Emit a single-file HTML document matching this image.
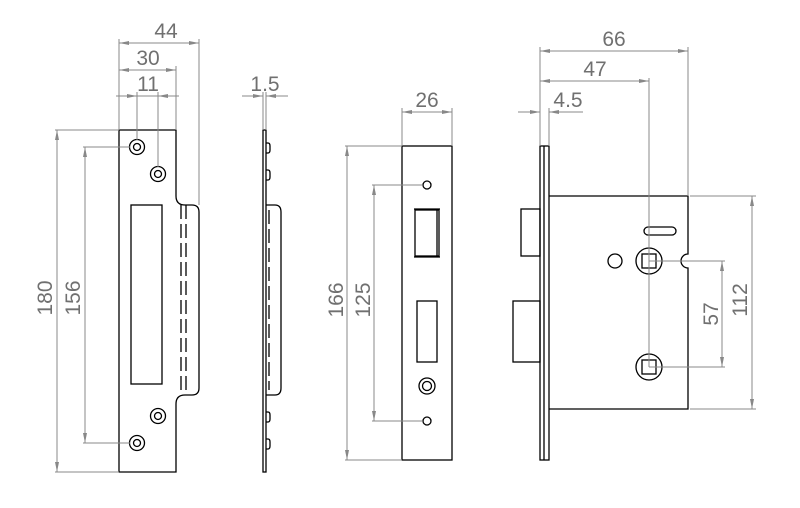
<!DOCTYPE html>
<html><head><style>
html,body{margin:0;padding:0;background:#fff;}
svg{display:block;}
text{font-family:"Liberation Sans",sans-serif;font-size:21px;fill:#707070;text-anchor:middle;}
.d{stroke:#888;stroke-width:1;fill:none;}
.s{stroke:#000;stroke-width:1.3;fill:none;}
</style></head><body>
<svg width="800" height="508" viewBox="0 0 800 508">
<defs>
<marker id="ar" viewBox="0 0 10 4" refX="10" refY="2" markerWidth="10" markerHeight="4" markerUnits="userSpaceOnUse" orient="auto-start-reverse">
<path d="M0,0 L10,2 L0,4 z" fill="#888"/></marker>
</defs>

<path class="s" d="M119,130 H176 V196 Q176,205 185,205 H192 Q199,205 199,212 V388 Q199,395 192,395 H185 Q176,395 176,404 V472 H119 Z"/>
<line class="s" x1="186" y1="205" x2="186" y2="395" stroke-dasharray="14,5"/>
<line class="s" x1="181" y1="205" x2="181" y2="395" stroke-dasharray="14,5"/>
<rect class="s" x="131" y="205" width="31" height="179"/>
<g class="s">
<circle cx="137" cy="147" r="7.5"/><circle cx="137" cy="147" r="3.5"/>
<circle cx="158" cy="174" r="7.5"/><circle cx="158" cy="174" r="3.5"/>
<circle cx="158" cy="416" r="7.5"/><circle cx="158" cy="416" r="3.5"/>
<circle cx="137" cy="443" r="7.5"/><circle cx="137" cy="443" r="3.5"/>
</g>
<g class="d">
<line x1="119" y1="130" x2="119" y2="39"/>
<line x1="199" y1="205" x2="199" y2="39"/>
<line x1="176" y1="130" x2="176" y2="66"/>
<line x1="137" y1="140" x2="137" y2="92"/>
<line x1="158" y1="167" x2="158" y2="92"/>
<line x1="119" y1="43" x2="199" y2="43" marker-start="url(#ar)" marker-end="url(#ar)"/>
<line x1="119" y1="70" x2="176" y2="70" marker-start="url(#ar)" marker-end="url(#ar)"/>
<line x1="116" y1="96" x2="137" y2="96" marker-end="url(#ar)"/>
<line x1="179" y1="96" x2="158" y2="96" marker-end="url(#ar)"/>
<line x1="137" y1="96" x2="158" y2="96"/>
<line x1="55" y1="130" x2="119" y2="130"/>
<line x1="55" y1="472" x2="119" y2="472"/>
<line x1="57" y1="130" x2="57" y2="472" marker-start="url(#ar)" marker-end="url(#ar)"/>
<line x1="83" y1="147" x2="130" y2="147"/>
<line x1="83" y1="443" x2="130" y2="443"/>
<line x1="85" y1="147" x2="85" y2="443" marker-start="url(#ar)" marker-end="url(#ar)"/>
</g>
<text x="166" y="38">44</text>
<text x="148" y="65">30</text>
<text x="148" y="91">11</text>
<text transform="translate(52,298) rotate(-90)">180</text>
<text transform="translate(80,298) rotate(-90)">156</text>

<rect class="s" x="263" y="130" width="3" height="342"/>
<path class="s" d="M266,205 H275 Q281,205 281,212 V388 Q281,395 275,395 H266"/>
<line class="s" x1="269" y1="210" x2="269" y2="390" stroke-dasharray="14,5"/>
<g class="s">
<path d="M266,143 H268 Q270,143 270,146 V150 Q270,153 268,153 H266"/>
<path d="M266,170 H268 Q270,170 270,173 V177 Q270,180 268,180 H266"/>
<path d="M266,412 H268 Q270,412 270,415 V419 Q270,422 268,422 H266"/>
<path d="M266,439 H268 Q270,439 270,442 V446 Q270,449 268,449 H266"/>
</g>
<g class="d">
<line x1="263" y1="130" x2="263" y2="92"/>
<line x1="266" y1="130" x2="266" y2="92"/>
<line x1="242" y1="96" x2="263" y2="96" marker-end="url(#ar)"/>
<line x1="288" y1="96" x2="266" y2="96" marker-end="url(#ar)"/>
</g>
<text x="265" y="91">1.5</text>

<rect class="s" x="402" y="146" width="50" height="314"/>
<circle class="s" cx="427" cy="185" r="4"/>
<circle class="s" cx="427" cy="421" r="4"/>
<rect class="s" x="415" y="210" width="24" height="46"/>
<line class="s" x1="437" y1="209" x2="437" y2="257"/>
<line class="s" x1="414" y1="209" x2="440" y2="209"/>
<line class="s" x1="414" y1="257" x2="440" y2="257"/>
<rect class="s" x="417" y="301" width="20" height="61"/>
<circle class="s" cx="427" cy="386" r="8"/>
<circle class="s" cx="427" cy="386" r="4.5"/>
<g class="d">
<line x1="402" y1="146" x2="402" y2="108"/>
<line x1="452" y1="146" x2="452" y2="108"/>
<line x1="402" y1="112" x2="452" y2="112" marker-start="url(#ar)" marker-end="url(#ar)"/>
<line x1="345" y1="146" x2="402" y2="146"/>
<line x1="345" y1="460" x2="402" y2="460"/>
<line x1="347" y1="146" x2="347" y2="460" marker-start="url(#ar)" marker-end="url(#ar)"/>
<line x1="372" y1="185" x2="422" y2="185"/>
<line x1="372" y1="421" x2="422" y2="421"/>
<line x1="374" y1="185" x2="374" y2="421" marker-start="url(#ar)" marker-end="url(#ar)"/>
</g>
<text x="427" y="107">26</text>
<text transform="translate(343,300) rotate(-90)">166</text>
<text transform="translate(370,300) rotate(-90)">125</text>

<rect class="s" x="540" y="146" width="9" height="314"/>
<line class="s" x1="544" y1="146" x2="544" y2="460"/>
<path class="s" d="M549,196 H688 V254 A7,7 0 0 0 688,268 V409 H549"/>
<rect class="s" x="521" y="209" width="19" height="47"/>
<rect class="s" x="513" y="301" width="27" height="61"/>
<rect class="s" x="644" y="227" width="32" height="8" rx="4"/>
<circle class="s" cx="615" cy="261" r="7"/>
<circle class="s" cx="649" cy="261" r="13"/>
<rect class="s" x="642" y="254" width="14" height="14"/>
<circle class="s" cx="649" cy="367" r="13"/>
<rect class="s" x="642" y="360" width="14" height="14"/>
<g class="d">
<line x1="540" y1="146" x2="540" y2="47"/>
<line x1="688" y1="196" x2="688" y2="47"/>
<line x1="549" y1="146" x2="549" y2="108"/>
<line x1="649" y1="78" x2="649" y2="367"/>
<line x1="540" y1="51" x2="688" y2="51" marker-start="url(#ar)" marker-end="url(#ar)"/>
<line x1="540" y1="81" x2="649" y2="81" marker-start="url(#ar)" marker-end="url(#ar)"/>
<line x1="518" y1="112" x2="540" y2="112" marker-end="url(#ar)"/>
<line x1="583" y1="112" x2="549" y2="112" marker-end="url(#ar)"/>
<line x1="649" y1="261" x2="725" y2="261"/>
<line x1="649" y1="367" x2="725" y2="367"/>
<line x1="722" y1="261" x2="722" y2="367" marker-start="url(#ar)" marker-end="url(#ar)"/>
<line x1="690" y1="196" x2="756" y2="196"/>
<line x1="690" y1="409" x2="756" y2="409"/>
<line x1="752" y1="196" x2="752" y2="409" marker-start="url(#ar)" marker-end="url(#ar)"/>
</g>
<text x="614" y="46">66</text>
<text x="595" y="76">47</text>
<text x="568" y="107">4.5</text>
<text transform="translate(718,314) rotate(-90)">57</text>
<text transform="translate(747,300) rotate(-90)">112</text>
</svg>
</body></html>
